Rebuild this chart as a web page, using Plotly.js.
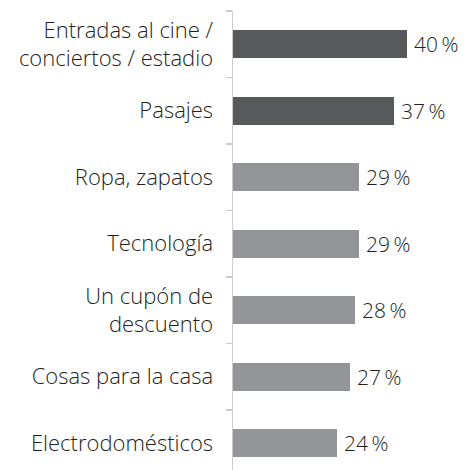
<!DOCTYPE html>
<html>
<head>
<meta charset="utf-8">
<script src="https://cdn.plot.ly/plotly-3.0.1.min.js"></script>
<style>
  html, body { margin: 0; padding: 0; background: #ffffff; }
  #chart { width: 464px; height: 470px; }
</style>
</head>
<body>
<div id="chart"></div>
<script>
// Categories from top to bottom, with manual line breaks
const categories = [
  "Entradas al cine /<br>conciertos / estadio",
  "Pasajes",
  "Ropa, zapatos",
  "Tecnología",
  "Un cupón de<br>descuento",
  "Cosas para la casa",
  "Electrodomésticos"
];
// Share of respondents, in percent
const values = [40, 37, 29, 29, 28, 27, 24];
// The two leading items are highlighted in a darker tone
const barColors = ["#58595b", "#58595b", "#939598", "#939598", "#939598", "#939598", "#939598"];

const FONT = "'Open Sans', Roboto, sans-serif";

const trace = {
  type: "bar",
  orientation: "h",
  x: values,
  y: categories,
  width: 0.42,
  marker: { color: barColors, line: { width: 0 } },
  hoverinfo: "skip"
};

// Value labels placed just past the end of each bar
const annotations = values.map((v, i) => ({
  x: v,
  y: categories[i],
  xref: "x",
  yref: "y",
  text: v + "\u2009%",
  showarrow: false,
  xanchor: "left",
  yanchor: "middle",
  xshift: 5,
  font: { family: FONT, size: 21, weight: 300, color: "#231f20" }
}));

const layout = {
  width: 464,
  height: 470,
  margin: { l: 233, r: 0, t: 11, b: 0, pad: 0 },
  paper_bgcolor: "#ffffff",
  plot_bgcolor: "#ffffff",
  showlegend: false,
  bargap: 0,
  xaxis: {
    range: [0, 53.1],
    showgrid: false,
    zeroline: false,
    showline: false,
    showticklabels: false,
    ticks: "",
    fixedrange: true
  },
  yaxis: {
    type: "category",
    range: [6.402, -0.5],
    showgrid: false,
    zeroline: false,
    showline: true,
    linecolor: "#cccccc",
    linewidth: 1.5,
    ticks: "outside",
    tickson: "boundaries",
    ticklen: 6,
    tickwidth: 1.5,
    tickcolor: "#cccccc",
    ticklabelstandoff: 14,
    tickfont: { family: FONT, size: 22, weight: 300, color: "#231f20" },
    fixedrange: true
  },
  annotations: annotations
};

Plotly.newPlot("chart", [trace], layout, { staticPlot: true, displayModeBar: false });
</script>
</body>
</html>
